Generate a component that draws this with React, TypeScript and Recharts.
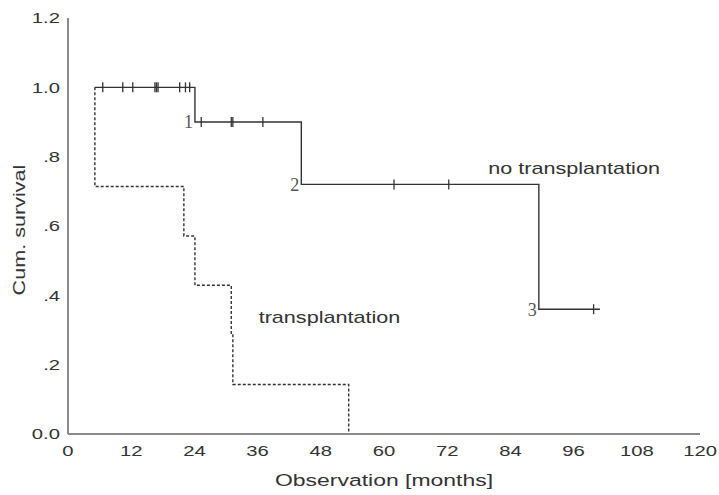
import React from 'react';
import { ComposedChart, Line, Scatter, XAxis, YAxis, Label } from 'recharts';

// Kaplan-Meier step curves (months, cumulative survival)
const noTxTimes = [5.1, 24.1, 44.3, 89.4, 101];
const noTxSurv = [1.0, 0.9, 0.72, 0.36, 0.36];

const txTimes = [5.1, 5.1, 22, 24.1, 31, 31.3, 53.3];
const txSurv = [1.0, 0.714, 0.571, 0.429, 0.286, 0.143, 0];

// censored observations on the "no transplantation" curve
const censorTimes = [6.6, 10.4, 12.3, 16.5, 16.8, 17.1, 21.2, 22.3, 23.1, 25.3, 31, 31.3, 37, 61.9, 72.3, 99.8];
const censorSurv = [1, 1, 1, 1, 1, 1, 1, 1, 1, 0.9, 0.9, 0.9, 0.9, 0.72, 0.72, 0.36];

// event numbers next to the drops
const eventTimes = [24.1, 44.3, 89.4];
const eventSurv = [0.9, 0.72, 0.36];
const eventLabels = ['1', '2', '3'];

// curve names written into the plot
const curveNames = ['no transplantation', 'transplantation'];
const curveNameX = [79.8, 36.2];
const curveNameY = [0.767, 0.335];

const xTicks = [0, 12, 24, 36, 48, 60, 72, 84, 96, 108, 120];
const yTicks = [0, 0.2, 0.4, 0.6, 0.8, 1.0, 1.2];

const noTxData = noTxTimes.map((x, i) => ({ x, y: noTxSurv[i] }));
const txData = txTimes.map((x, i) => ({ x, y: txSurv[i] }));
const censorData = censorTimes.map((x, i) => ({ x, y: censorSurv[i] }));
const eventData = eventTimes.map((x, i) => ({ x, y: eventSurv[i], label: eventLabels[i] }));
const nameData = curveNames.map((label, i) => ({ x: curveNameX[i], y: curveNameY[i], label }));

const sans = '"Liberation Sans", Arial, Helvetica, sans-serif';
const ink = '#333';
const axisGray = '#8a8a8a';
// the original lettering is a wide grotesque, so stretch Arial sideways
const WIDE = 1.35;

const fmtY = (v: number) => {
  if (v === 0) return '0.0';
  if (v >= 1) return v.toFixed(1);
  return v.toFixed(1).replace(/^0/, '');
};

const WideText = ({ x, y, size, anchor, rotate = 0, dy = '0', children }: any) => (
  <g transform={`translate(${x},${y}) rotate(${rotate})`}>
    <text transform={`scale(${WIDE},1)`} textAnchor={anchor} dy={dy} fontFamily={sans} fontSize={size} fill={ink}>
      {children}
    </text>
  </g>
);

const XTick = (props: any) => {
  const { x, y, payload } = props;
  return (
    <WideText x={x} y={y + 3} size={15} anchor="middle" dy="0.71em">
      {payload.value}
    </WideText>
  );
};

const YTick = (props: any) => {
  const { x, y, payload } = props;
  return (
    <WideText x={x} y={y} size={15} anchor="end" dy="0.36em">
      {fmtY(payload.value)}
    </WideText>
  );
};

const CensorTick = (props: any) => {
  const { cx, cy } = props;
  return <line x1={cx} x2={cx} y1={cy - 5} y2={cy + 5} stroke={ink} strokeWidth={1.3} />;
};

const EventLabel = (props: any) => {
  const { cx, cy, payload } = props;
  return (
    <text x={cx - 2} y={cy} dy="0.35em" textAnchor="end" fontFamily='"Liberation Serif", "Times New Roman", serif' fontSize={18} fill="#555">
      {payload.label}
    </text>
  );
};

const NameLabel = (props: any) => {
  const { cx, cy, payload } = props;
  return (
    <WideText x={cx} y={cy} size={16} anchor="start" dy="0.35em">
      {payload.label}
    </WideText>
  );
};

export default function App() {
  return (
    <div style={{ position: 'fixed', left: 0, top: 0, background: '#fff' }}>
      <ComposedChart width={719} height={495} margin={{ top: 18, right: 19, left: 0, bottom: 0 }}>
        <XAxis
          type="number"
          dataKey="x"
          domain={[0, 120]}
          ticks={xTicks}
          interval={0}
          tickLine={false}
          height={61}
          stroke={axisGray}
          strokeWidth={2}
          tick={<XTick />}
          allowDataOverflow
        >
          <Label
            content={(p: any) => (
              <WideText x={p.viewBox.x + p.viewBox.width / 2} y={480} size={17} anchor="middle" dy="0.36em">
                Observation [months]
              </WideText>
            )}
          />
        </XAxis>
        <YAxis
          type="number"
          dataKey="y"
          domain={[0, 1.2]}
          ticks={yTicks}
          interval={0}
          tickLine={false}
          width={68}
          stroke={axisGray}
          strokeWidth={2}
          tick={<YTick />}
        >
          <Label
            content={() => (
              <WideText x={19} y={230} size={16} anchor="middle" rotate={-90} dy="0.36em">
                Cum. survival
              </WideText>
            )}
          />
        </YAxis>
        <Line data={txData} dataKey="y" type="stepAfter" stroke={ink} strokeWidth={1.4} strokeDasharray="3 2" dot={false} isAnimationActive={false} />
        <Line data={noTxData} dataKey="y" type="stepAfter" stroke={ink} strokeWidth={1.4} dot={false} isAnimationActive={false} />
        <Scatter data={censorData} dataKey="y" shape={<CensorTick />} isAnimationActive={false} />
        <Scatter data={eventData} dataKey="y" shape={<EventLabel />} isAnimationActive={false} />
        <Scatter data={nameData} dataKey="y" shape={<NameLabel />} isAnimationActive={false} />
      </ComposedChart>
    </div>
  );
}
